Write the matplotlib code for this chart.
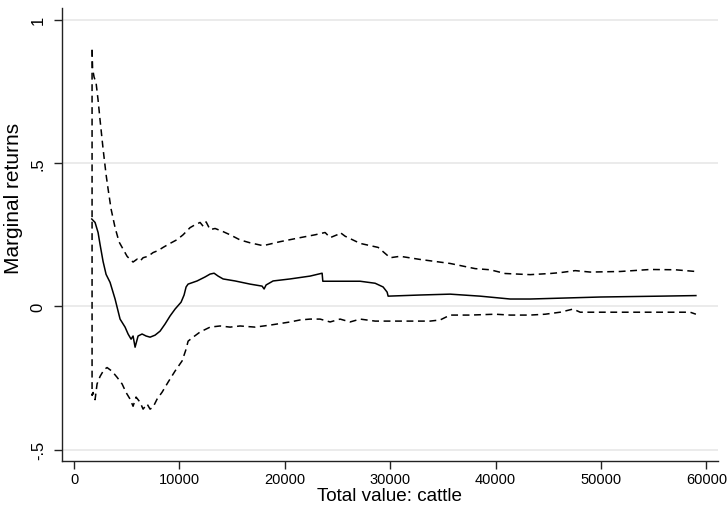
import matplotlib
matplotlib.use("Agg")
import matplotlib.pyplot as plt
from matplotlib import font_manager as fm

# ---------------- data ----------------
upper_x = [1708, 1756, 1898, 2088, 2278, 2467, 2752, 3037, 3227, 3511, 3891, 4271,
           4650, 5030, 5314, 5599, 5979, 6263, 6548, 7023, 7497, 7972, 8446, 9110,
           9774, 10344, 11008, 11483, 11957, 12242, 12527, 12906, 13381, 14140,
           14804, 15753, 16702, 17936, 19549, 21447, 22871, 23820, 24294, 24959,
           25243, 25718, 27141, 28850, 29514, 29988, 30937, 32835, 35682, 38055,
           39478, 40902, 43274, 45172, 46121, 47545, 48968, 51815, 54662, 57035, 59000]
upper_y = [0.895, 0.83, 0.80, 0.78, 0.72, 0.65, 0.55, 0.46, 0.41, 0.34, 0.275, 0.225,
           0.20, 0.175, 0.164, 0.155, 0.165, 0.158, 0.17, 0.175, 0.188, 0.195, 0.206, 0.22,
           0.233, 0.25, 0.275, 0.285, 0.293, 0.28, 0.295, 0.268, 0.272, 0.261,
           0.25, 0.232, 0.222, 0.212, 0.226, 0.24, 0.25, 0.258, 0.24, 0.25,
           0.258, 0.245, 0.22, 0.206, 0.185, 0.17, 0.175, 0.164, 0.15, 0.132,
           0.128, 0.115, 0.111, 0.115, 0.118, 0.125, 0.12, 0.122, 0.129, 0.128, 0.122]

est_x = [1680, 1993, 2278, 2467, 2752, 3037, 3416, 3891, 4365, 4840, 5125, 5409, 5599,
         5789, 6073, 6453, 6833, 7212, 7687, 8161, 8636, 9110, 9585, 10154, 10439,
         10629, 10819, 11673, 12432, 12906, 13286, 13666, 14140, 15279, 16702, 17841,
         18031, 18221, 18885, 20498, 22396, 23535, 23602, 25243, 27141, 28565, 29324,
         29704, 29798, 32835, 35682, 38529, 41376, 43274, 46121, 49917, 55611, 59000]
est_y = [0.305, 0.293, 0.258, 0.216, 0.157, 0.112, 0.084, 0.026, -0.044, -0.072, -0.096,
         -0.114, -0.103, -0.142, -0.103, -0.096, -0.103, -0.107, -0.10, -0.086, -0.061,
         -0.033, -0.009, 0.015, 0.04, 0.068, 0.078, 0.089, 0.103, 0.113, 0.116, 0.106,
         0.096, 0.089, 0.078, 0.071, 0.061, 0.075, 0.089, 0.096, 0.106, 0.116, 0.088,
         0.088, 0.088, 0.081, 0.068, 0.05, 0.036, 0.04, 0.043, 0.036, 0.026, 0.026,
         0.029, 0.033, 0.036, 0.038]

lower_x = [1708, 1708, 1803, 1993, 2183, 2467, 2847, 3132, 3606, 4081, 4555, 4935, 5314,
           5599, 5884, 6263, 6548, 6928, 7212, 7497, 7877, 8351, 8921, 9585, 10249,
           10629, 10819, 11293, 11957, 12906, 13855, 14804, 15753, 17177, 18601, 20498,
           21447, 22396, 23345, 24294, 25243, 26192, 27141, 28565, 29988, 31886, 33784,
           34733, 35682, 37580, 39953, 41376, 43274, 44698, 46121, 47355, 48019, 49917,
           54662, 58458, 59000]
lower_y = [0.895, -0.31, -0.30, -0.325, -0.27, -0.244, -0.22, -0.213, -0.226, -0.247,
           -0.27, -0.30, -0.323, -0.348, -0.316, -0.334, -0.358, -0.34, -0.358, -0.351,
           -0.323, -0.299, -0.264, -0.225, -0.19, -0.149, -0.121, -0.107, -0.089, -0.072,
           -0.068, -0.072, -0.068, -0.072, -0.065, -0.054, -0.047, -0.044, -0.044, -0.054,
           -0.044, -0.054, -0.044, -0.051, -0.051, -0.051, -0.051, -0.047, -0.03, -0.03,
           -0.027, -0.03, -0.03, -0.027, -0.02, -0.009, -0.02, -0.02, -0.02, -0.02, -0.027]

x_ticks = [0, 10000, 20000, 30000, 40000, 50000, 60000]
x_ticklabels = ["0", "10000", "20000", "30000", "40000", "50000", "60000"]
y_ticks = [-0.5, 0, 0.5, 1]
y_ticklabels = ["-.5", "0", ".5", "1"]
x_title = "Total value: cattle"
y_title = "Marginal returns"

# ---------------- fonts ----------------
names = {f.name for f in fm.fontManager.ttflist}
base = "Liberation Sans" if "Liberation Sans" in names else "DejaVu Sans"

# ---------------- figure ----------------
fig = plt.figure(figsize=(7.28, 5.10), dpi=100)
ax = fig.add_axes([0.0848, 0.0935, 0.9863 - 0.0848, 0.9824 - 0.0935])

ax.plot(upper_x, upper_y, color="black", lw=1.1, linestyle=(0, (4.5, 3)))
ax.plot(lower_x, lower_y, color="black", lw=1.1, linestyle=(0, (4.5, 3)))
ax.plot(est_x, est_y, color="black", lw=1.1, linestyle="-")

ax.set_xlim(-1170, 61100)
ax.set_ylim(-0.540, 1.041)

for yv in y_ticks:
    ax.axhline(yv, color="#e6e6e6", lw=1.1, zorder=0)

ax.spines["top"].set_visible(False)
ax.spines["right"].set_visible(False)
for s in ("left", "bottom"):
    ax.spines[s].set_color("#222222")
    ax.spines[s].set_linewidth(1.0)

ax.set_xticks(x_ticks)
ax.set_xticklabels(x_ticklabels, fontfamily=base, fontsize=10.5)
ax.set_yticks(y_ticks)
ax.set_yticklabels(y_ticklabels, fontfamily=base, fontsize=12, rotation=90, va="center")
ax.tick_params(axis="both", direction="out", length=5.5, width=1.0, color="#222222")
ax.tick_params(axis="x", pad=2)
ax.tick_params(axis="y", pad=6)

ax.set_xlabel(x_title, fontfamily=base, fontsize=13.6, labelpad=1)
ax.set_ylabel(y_title, fontfamily=base, fontsize=15)
ax.yaxis.set_label_coords(-0.059, 0.581)

fig.savefig("out.png", dpi=100)
